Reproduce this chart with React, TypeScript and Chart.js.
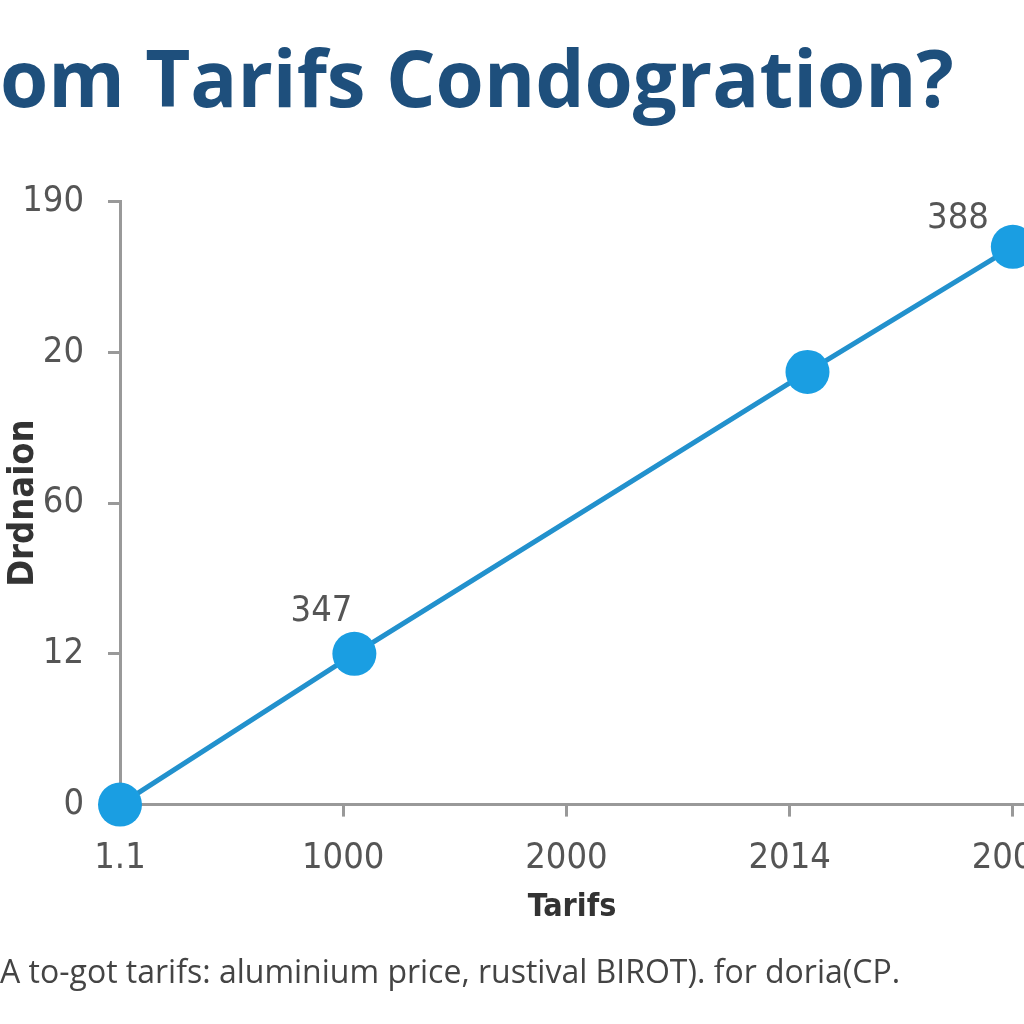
import React, { useEffect, useRef } from "react";
import { Chart, registerables } from "chart.js";

Chart.register(...registerables);

const titleText = "om Tarifs Condogration?";
const footerText = "A to-got tarifs: aluminium price, rustival BIROT). for doria(CP.";
const xAxisTitle = "Tarifs";
const yAxisTitle = "Drdnaion";
const xTickLabels = ["1.1", "1000", "2000", "2014", "2000"];
const yTickLabels = ["0", "12", "60", "20", "190"];
const pointX = [0, 1.05, 3.08, 4.0];
const pointY = [0, 1.0, 2.87, 3.7];
const pointLabels = ["", "347", "", "388"];

const narrowFont = "'Liberation Sans Narrow', 'DejaVu Sans Condensed', 'Open Sans', sans-serif";

const pointLabelPlugin = {
  id: "pointLabelPlugin",
  afterDatasetsDraw(chart: any) {
    const meta = chart.getDatasetMeta(0);
    const ctx = chart.ctx;
    const offsets = [
      [0, 0],
      [-2, -24],
      [0, 0],
      [-24, -10],
    ];
    ctx.save();
    ctx.font = `36px ${narrowFont}`;
    ctx.fillStyle = "#555";
    ctx.textAlign = "right";
    ctx.textBaseline = "bottom";
    meta.data.forEach((el: any, i: number) => {
      const t = pointLabels[i];
      if (!t) return;
      ctx.fillText(t, el.x + offsets[i][0], el.y + offsets[i][1]);
    });
    ctx.restore();
  },
};

export default function App() {
  const ref = useRef<HTMLCanvasElement>(null);
  useEffect(() => {
    if (!ref.current) return;
    const chart = new Chart(ref.current, {
      type: "line",
      data: {
        datasets: [
          {
            data: pointX.map((x, i) => ({ x, y: pointY[i] })),
            borderColor: "#2291cd",
            borderWidth: 5,
            pointRadius: 22,
            pointBackgroundColor: "#1a9ee2",
            pointBorderColor: "#1a9ee2",
            pointBorderWidth: 0,
            tension: 0,
            clip: false as any,
          },
        ],
      },
      options: {
        animation: false,
        responsive: false,
        layout: { padding: { left: 0, right: 76, top: 0, bottom: 0 } },
        plugins: {
          legend: { display: false },
          tooltip: { enabled: false },
          title: {
            display: true,
            text: titleText,
            align: "start",
            color: "#1e4f7c",
            font: { family: "'Open Sans', sans-serif", size: 78, weight: "bold" as any, lineHeight: 1.2 },
            padding: { top: 38, bottom: 70 },
          },
          subtitle: {
            display: true,
            position: "bottom",
            text: footerText,
            align: "start",
            color: "#444",
            font: { family: "'Open Sans', sans-serif", size: 32, lineHeight: 1.2 },
            padding: { top: 28, bottom: 31 },
          },
        },
        scales: {
          x: {
            type: "linear",
            min: 0,
            max: 4.05,
            afterBuildTicks: (s: any) => {
              s.ticks = xTickLabels.map((_, i) => ({ value: i }));
            },
            afterFit: (s: any) => {
              s.height = 122;
            },
            ticks: {
              callback: (v: any) => xTickLabels[v] ?? "",
              color: "#555",
              font: { family: narrowFont, size: 36 },
              padding: 20,
              maxRotation: 0,
              autoSkip: false,
            },
            grid: {
              display: true,
              drawOnChartArea: false,
              drawTicks: true,
              tickLength: 12,
              tickColor: "#999",
              lineWidth: 3,
            },
            border: { display: true, color: "#999", width: 3 },
            title: {
              display: true,
              text: xAxisTitle,
              color: "#333",
              font: { family: narrowFont, size: 32, weight: "bold" as any },
              padding: 0,
            },
          },
          y: {
            type: "linear",
            min: 0,
            max: 4,
            afterBuildTicks: (s: any) => {
              s.ticks = yTickLabels.map((_, i) => ({ value: i }));
            },
            afterFit: (s: any) => {
              s.width = 120;
            },
            ticks: {
              callback: (v: any) => yTickLabels[v] ?? "",
              color: "#555",
              font: { family: narrowFont, size: 36 },
              padding: 24,
              autoSkip: false,
            },
            grid: {
              display: true,
              drawOnChartArea: false,
              drawTicks: true,
              tickLength: 12,
              tickColor: "#999",
              lineWidth: 3,
            },
            border: { display: true, color: "#999", width: 3 },
            title: {
              display: true,
              text: yAxisTitle,
              color: "#333",
              font: { family: narrowFont, size: 36, weight: "bold" as any },
              padding: { top: 2, bottom: 0 },
            },
          },
        },
      },
      plugins: [pointLabelPlugin],
    });
    return () => chart.destroy();
  }, []);

  return (
    <div
      style={{
        position: "fixed",
        left: 0,
        top: 0,
        width: 1024,
        height: 1024,
        overflow: "hidden",
        background: "#ffffff",
      }}
    >
      <canvas ref={ref} width={1100} height={1024} style={{ position: "absolute", left: 0, top: 0 }} />
    </div>
  );
}
